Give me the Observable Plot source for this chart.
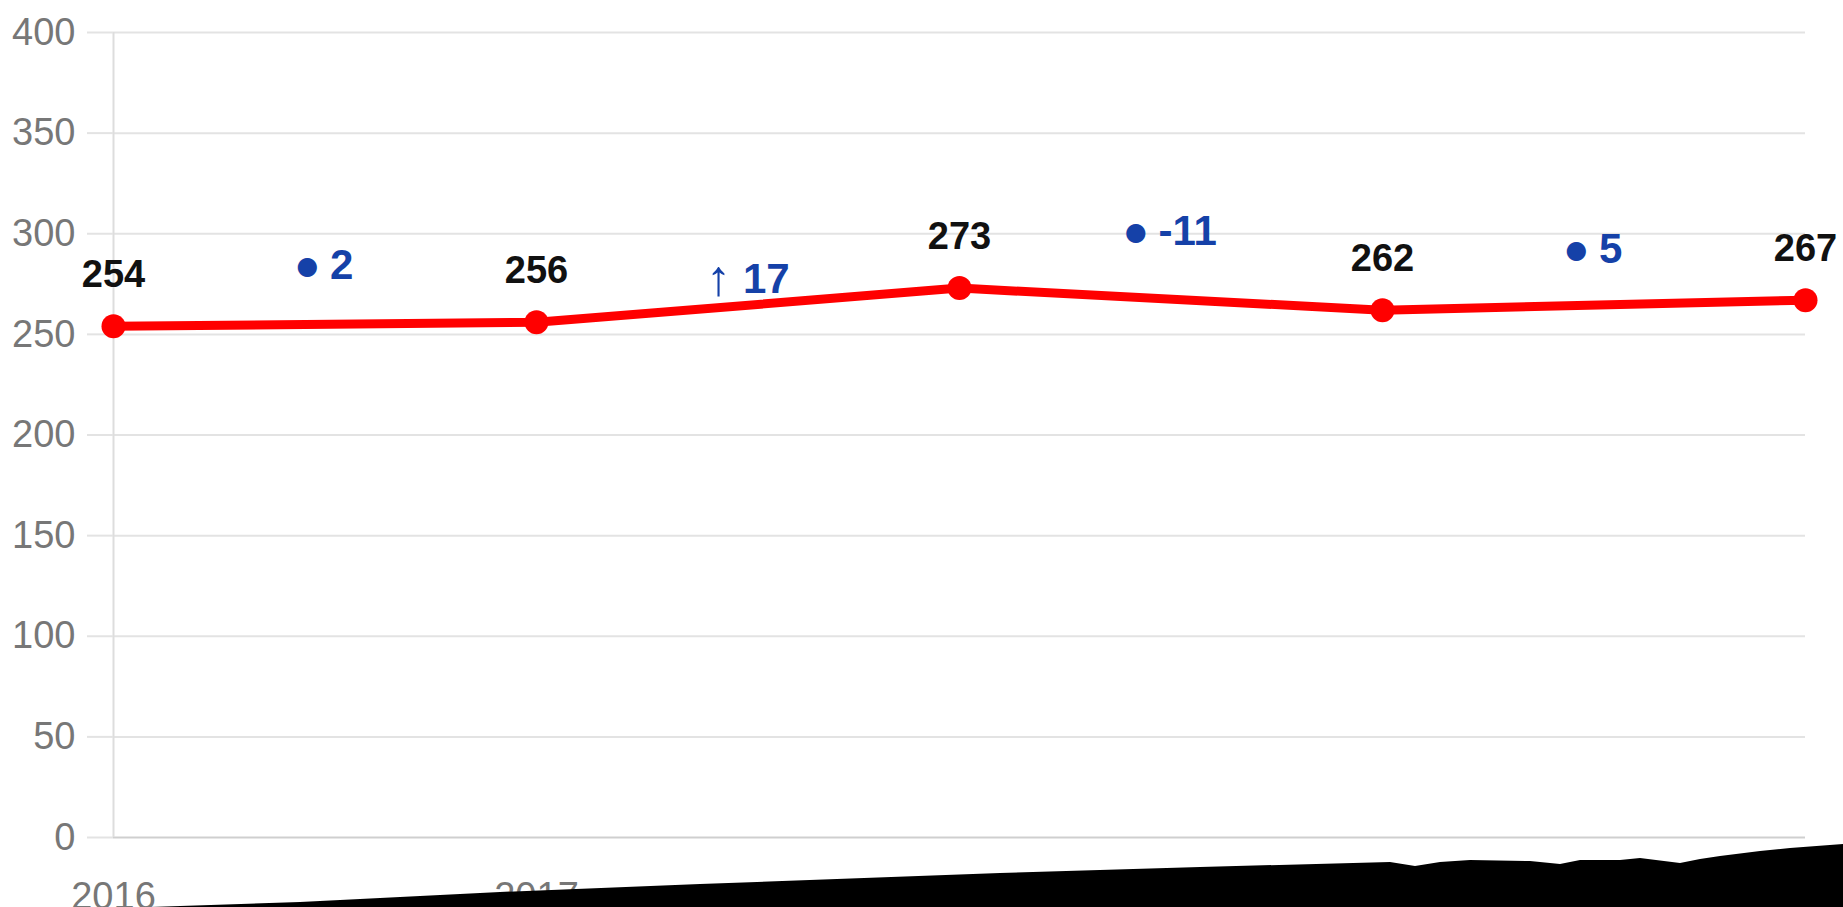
<!DOCTYPE html>
<html>
<head>
<meta charset="utf-8">
<script src="https://cdn.jsdelivr.net/npm/d3@7"></script>
<script src="https://cdn.jsdelivr.net/npm/@observablehq/plot@0.6"></script>
<style>
  html, body { margin: 0; padding: 0; background: #fff; overflow: hidden; }
  #wrap { position: relative; width: 1843px; height: 907px; }
  #tear {
    position: absolute; left: 0; top: 0; width: 1843px; height: 907px; background: #000;
    clip-path: polygon(150px 907px, 300px 902px, 500px 892px, 700px 884px, 1000px 873px, 1200px 867px, 1390px 862px,
      1415px 866px, 1440px 862px, 1470px 860px, 1530px 861px, 1560px 864px, 1580px 860px, 1620px 860px,
      1640px 858px, 1680px 863px, 1700px 859px, 1720px 856px, 1760px 851px, 1790px 848px, 1843px 844px, 1843px 907px);
  }
</style>
</head>
<body>
<div id="wrap"><div id="chart"></div><div id="tear"></div></div>
<script>
// Data
const years = [2016, 2017, 2018, 2019, 2020];
const values = [254, 256, 273, 262, 267];
const changeSymbols = ["●", "↑", "●", "●"];
const changes = [2, 17, -11, 5];
const changeLabelY = [284, 277, 301.2, 292.3];
const yTicks = [0, 50, 100, 150, 200, 250, 300, 350, 400];
const xTickLabels = ["2016", "2017", "2018", "2019", "2020"];

const series = years.map((year, i) => ({year, value: values[i]}));
const ann = changes.map((c, i) => ({
  x: (years[i] + years[i + 1]) / 2,
  y: changeLabelY[i],
  label: changeSymbols[i] + " " + c
}));

const chart = Plot.plot({
  width: 1843,
  height: 907,
  marginTop: 32,
  marginBottom: 70,
  marginLeft: 113,
  marginRight: 38,
  style: {background: "#fff", fontFamily: "'Liberation Sans', Arial, sans-serif", overflow: "visible"},
  x: {domain: [years[0], years[years.length - 1]], label: null},
  y: {domain: [0, 400], label: null},
  marks: [
    Plot.gridY(yTicks.filter(t => t > 0), {stroke: "#e3e3e3", strokeOpacity: 1, strokeWidth: 2}),
    Plot.ruleY([0], {stroke: "#cfcfcf", strokeWidth: 2}),
    Plot.ruleX([years[0]], {stroke: "#dddddd", strokeWidth: 2}),
    Plot.axisY(yTicks, {tickSize: 26, tickPadding: 12, stroke: "#e3e3e3", strokeWidth: 2, fill: "#777", fontSize: 38, label: null}),
    Plot.axisX(years, {tickSize: 0, tickPadding: 45, fill: "#777", fontSize: 38, label: null,
      tickFormat: d => xTickLabels[years.indexOf(d)]}),
    Plot.line(series, {x: "year", y: "value", stroke: "#ff0000", strokeWidth: 9}),
    Plot.dot(series, {x: "year", y: "value", r: 12, fill: "#ff0000"}),
    Plot.text(series, {x: "year", y: "value", text: d => String(d.value), dy: -51,
      fontSize: 38, fontWeight: "bold", fill: "#111"}),
    Plot.text(ann, {x: "x", y: "y", text: "label", fontSize: 42, fontWeight: "bold", fill: "#1541a8"})
  ]
});

// split change labels: symbol in lighter/smaller style, number bold
const ns = "http://www.w3.org/2000/svg";
chart.querySelectorAll("text").forEach(t => {
  const m = t.textContent.match(/^([●↑]) (.*)$/);
  if (!m) return;
  t.textContent = "";
  const a = document.createElementNS(ns, "tspan");
  a.textContent = m[1];
  const b = document.createElementNS(ns, "tspan");
  b.textContent = "\u00a0" + m[2];
  if (m[1] === "●") {
    a.setAttribute("font-size", "25");
    a.setAttribute("font-family", "DejaVu Sans");
    a.setAttribute("font-weight", "normal");
    a.setAttribute("dy", "-5");
    b.setAttribute("dy", "5");
  } else {
    a.setAttribute("font-size", "50");
    a.setAttribute("font-weight", "normal");
    a.setAttribute("dy", "2");
    b.setAttribute("dy", "-2");
  }
  t.appendChild(a);
  t.appendChild(b);
});

document.getElementById("chart").appendChild(chart);
</script>
</body>
</html>
